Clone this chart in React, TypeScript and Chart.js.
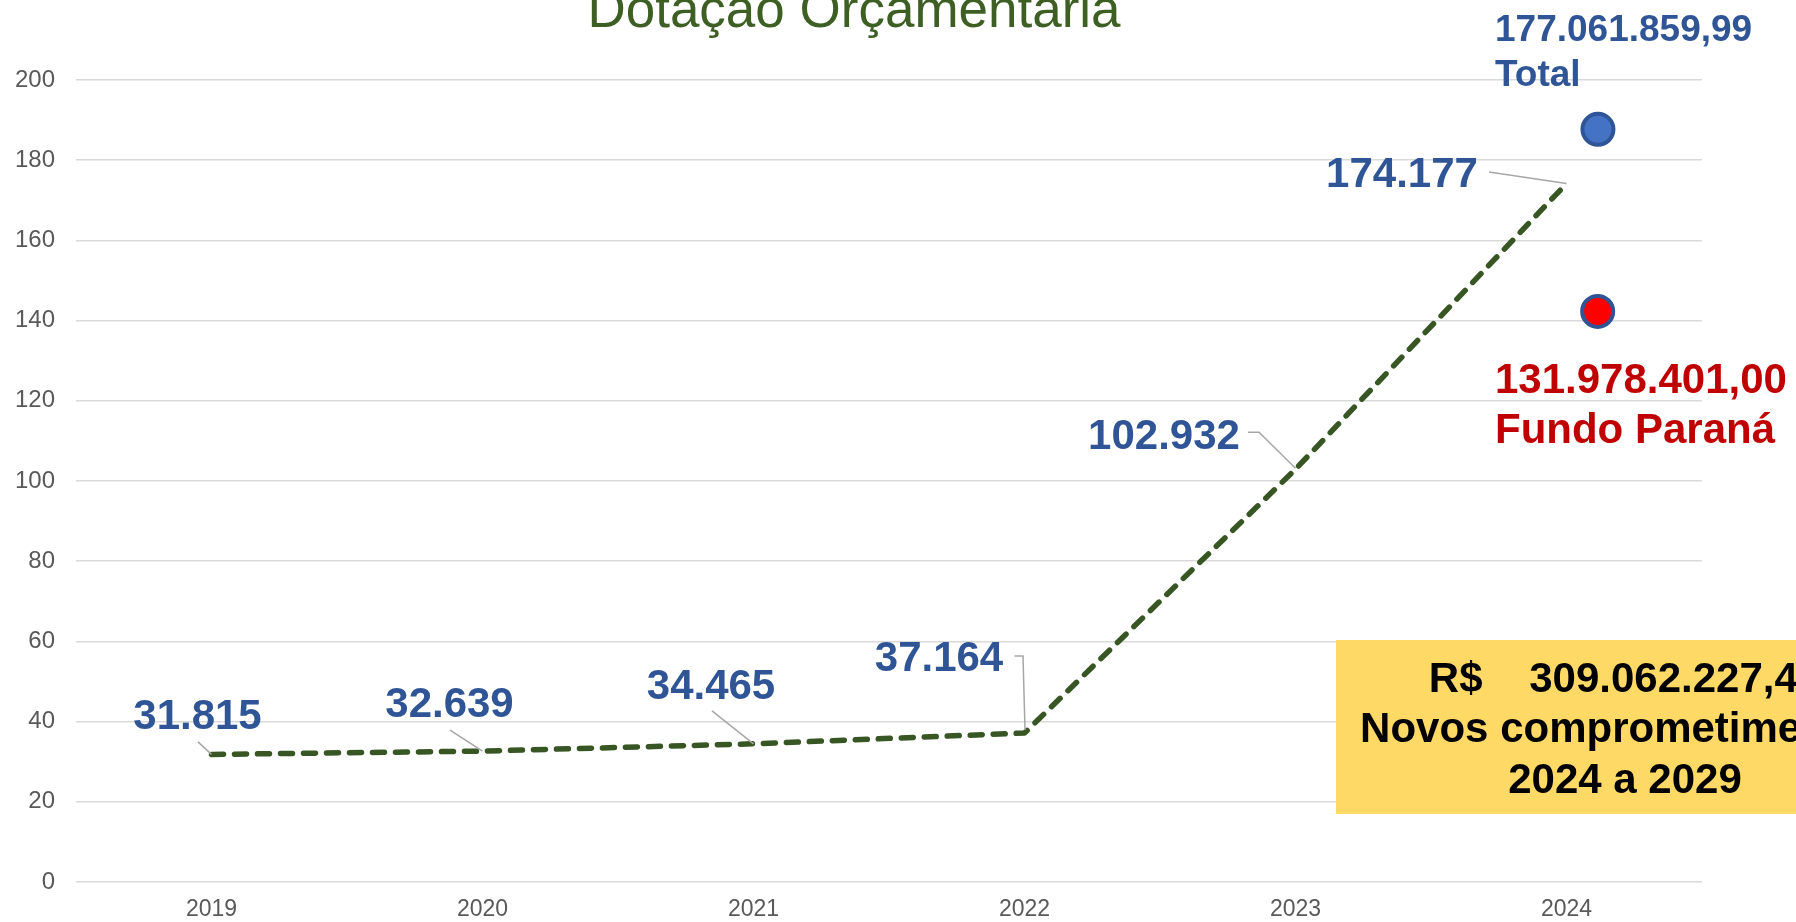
import React, { useEffect, useRef } from "react";
import { Chart, registerables } from "chart.js";

Chart.register(...registerables);

// ---- data ----
const chartTitle = "Dotação Orçamentária";
const years = ["2019", "2020", "2021", "2022", "2023", "2024"];
const dotacao = [31.815, 32.639, 34.465, 37.164, 102.932, 174.177];
const yMin = 0;
const yMax = 200;
const yStep = 20;

// marker points as drawn in the picture (x = category position, y = axis value)
const totalMarkerX = [5.116];
const totalMarkerY = [187.7];
const fundoMarkerX = [5.115];
const fundoMarkerY = [142.3];

const totalText = ["177.061.859,99", "Total"];
const fundoText = ["131.978.401,00", "Fundo Paraná"];
const boxText = ["R$    309.062.227,40", "Novos comprometimentos", "2024 a 2029"];

// ---- layout of data labels (pixel offsets from their point) ----
const labelOffsets = [
  { dx: -14, dy: -25, leader: [[-13.5, -12.5], [0, 0]] },
  { dx: -33, dy: -34, leader: [[-32.5, -21], [0, 0]] },
  { dx: -42.5, dy: -45, leader: [[-41.5, -33], [0, 0]] },
  { dx: -85.5, dy: -62, leader: [[-10, -77], [-1.5, -77], [0.5, -3]] },
  { dx: -131.5, dy: -20, leader: [[-47.5, -37], [-36.5, -37], [0, -1]] },
  { dx: -164.5, dy: 3.5, leader: [[-77.5, -11.5], [0, 0]] },
];

const FONT = '"Liberation Sans", Arial, sans-serif';

const annotPlugin = {
  id: "annot",
  afterDraw(chart: any) {
    const ctx = chart.ctx as CanvasRenderingContext2D;
    const meta = chart.getDatasetMeta(0);
    ctx.save();

    // title
    ctx.fillStyle = "#3D5F24";
    ctx.font = `normal 53px ${FONT}`;
    ctx.textAlign = "center";
    ctx.textBaseline = "alphabetic";
    ctx.fillText(chartTitle, 854, 27);

    // data labels + leader lines
    meta.data.forEach((pt: any, i: number) => {
      const lay = labelOffsets[i];
      const px = pt.x;
      const py = pt.y;
      ctx.strokeStyle = "#A6A6A6";
      ctx.lineWidth = 1.5;
      ctx.setLineDash([]);
      ctx.beginPath();
      lay.leader.forEach((p, k) => {
        if (k === 0) ctx.moveTo(px + p[0], py + p[1]);
        else ctx.lineTo(px + p[0], py + p[1]);
      });
      ctx.stroke();
      ctx.fillStyle = "#2F5597";
      ctx.font = `bold 42px ${FONT}`;
      ctx.textAlign = "center";
      ctx.fillText(dotacao[i].toFixed(3), px + lay.dx, py + lay.dy);
    });

    // Total annotation
    ctx.textAlign = "left";
    ctx.fillStyle = "#2F5597";
    ctx.font = `bold 37px ${FONT}`;
    ctx.fillText(totalText[0], 1495, 41);
    ctx.fillText(totalText[1], 1495, 86);

    // Fundo Paraná annotation
    ctx.fillStyle = "#C00000";
    ctx.font = `bold 42px ${FONT}`;
    ctx.fillText(fundoText[0], 1495, 393);
    ctx.fillText(fundoText[1], 1495, 443);

    // yellow box
    ctx.fillStyle = "#FFD966";
    ctx.fillRect(1336, 640, 600, 174);
    ctx.fillStyle = "#000000";
    ctx.font = `bold 42px ${FONT}`;
    ctx.textAlign = "center";
    const baselines = [692, 742, 793];
    boxText.forEach((t, k) => ctx.fillText(t, 1625, baselines[k]));

    ctx.restore();
  },
};

export default function App() {
  const ref = useRef<HTMLCanvasElement>(null);

  useEffect(() => {
    const canvas = ref.current!;
    Chart.defaults.font.family = FONT;
    const chart = new Chart(canvas, {
      type: "line",
      data: {
        labels: years,
        datasets: [
          {
            label: "Dotação",
            data: dotacao,
            xAxisID: "x",
            yAxisID: "y",
            borderColor: "#375623",
            borderWidth: 5.5,
            borderDash: [12, 11],
            borderCapStyle: "round",
            borderJoinStyle: "round",
            pointRadius: 0,
            pointHoverRadius: 0,
            tension: 0,
            fill: false,
          } as any,
          {
            label: "Total",
            data: totalMarkerX.map((x, i) => ({ x, y: totalMarkerY[i] })),
            xAxisID: "xm",
            yAxisID: "y",
            showLine: false,
            pointRadius: 15.5,
            pointBorderWidth: 4,
            pointBackgroundColor: "#4472C4",
            pointBorderColor: "#2F5597",
          } as any,
          {
            label: "Fundo Paraná",
            data: fundoMarkerX.map((x, i) => ({ x, y: fundoMarkerY[i] })),
            xAxisID: "xm",
            yAxisID: "y",
            showLine: false,
            pointRadius: 15.5,
            pointBorderWidth: 4,
            pointBackgroundColor: "#FF0000",
            pointBorderColor: "#2F5597",
          } as any,
        ],
      },
      options: {
        responsive: false,
        animation: false,
        layout: { padding: { left: 0, right: 94, top: 80, bottom: 0 } },
        plugins: {
          legend: { display: false },
          tooltip: { enabled: false },
          title: { display: false },
        },
        scales: {
          x: {
            type: "category",
            offset: true,
            grid: { display: false, drawTicks: false },
            border: { display: false },
            ticks: {
              color: "#595959",
              font: { size: 23 },
              padding: 14,
              maxRotation: 0,
            },
            afterFit: (s: any) => {
              s.height = 40;
            },
          },
          xm: {
            type: "linear",
            display: false,
            min: -0.5,
            max: 5.5,
          },
          y: {
            min: yMin,
            max: yMax,
            ticks: {
              stepSize: yStep,
              color: "#595959",
              font: { size: 24 },
              padding: 21,
            },
            grid: { color: "#D9D9D9", lineWidth: 1.5, drawTicks: false },
            border: { display: false },
            afterFit: (s: any) => {
              s.width = 76;
            },
          },
        },
      } as any,
      plugins: [annotPlugin],
    });
    return () => chart.destroy();
  }, []);

  return (
    <div style={{ position: "absolute", left: 0, top: 0, width: 1796, height: 922, background: "#fff" }}>
      <canvas ref={ref} width={1796} height={922} style={{ display: "block", width: 1796, height: 922 }} />
    </div>
  );
}
